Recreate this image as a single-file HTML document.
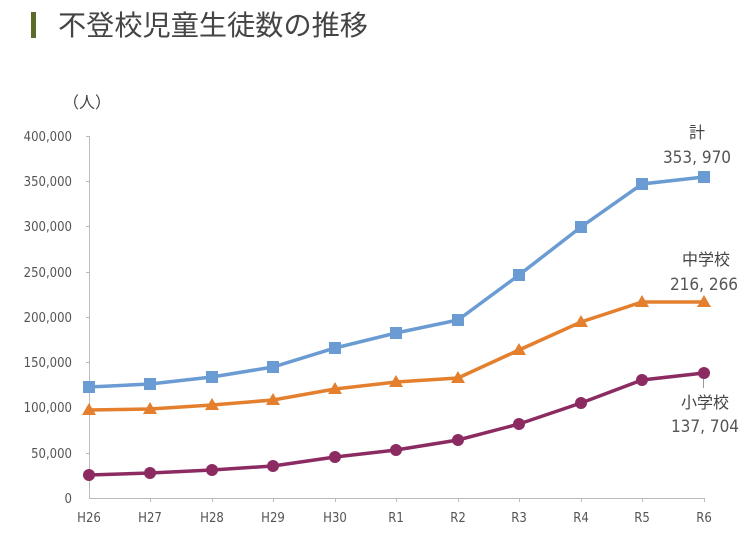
<!DOCTYPE html>
<html><head><meta charset="utf-8"><style>
body{margin:0;background:#fff;}
svg{display:block;}
.t{font-family:"Liberation Sans Narrow","DejaVu Sans Condensed","Liberation Sans",sans-serif;fill:#555;font-size:13px;}
.j{font-family:"Liberation Sans","Noto Sans CJK JP",sans-serif;fill:#444;}
</style></head><body>
<svg width="750" height="538" viewBox="0 0 750 538">
<rect x="31" y="12" width="5" height="26" fill="#5b6b2a"/>
<text x="58" y="35" class="j" font-size="28" fill="#333" textLength="310" lengthAdjust="spacingAndGlyphs">不登校児童生徒数の推移</text>
<text x="63" y="108" class="j" font-size="16">（人）</text>
<g stroke="#bbb" stroke-width="1">
<line x1="89.5" y1="136" x2="89.5" y2="498"/>
<line x1="89" y1="498.5" x2="705" y2="498.5"/>
<line x1="86" y1="136.5" x2="89" y2="136.5"/>
<line x1="86" y1="181.5" x2="89" y2="181.5"/>
<line x1="86" y1="226.5" x2="89" y2="226.5"/>
<line x1="86" y1="272.5" x2="89" y2="272.5"/>
<line x1="86" y1="317.5" x2="89" y2="317.5"/>
<line x1="86" y1="362.5" x2="89" y2="362.5"/>
<line x1="86" y1="407.5" x2="89" y2="407.5"/>
<line x1="86" y1="453.5" x2="89" y2="453.5"/>
<line x1="150.5" y1="498" x2="150.5" y2="502"/><line x1="212.5" y1="498" x2="212.5" y2="502"/><line x1="273.5" y1="498" x2="273.5" y2="502"/><line x1="335.5" y1="498" x2="335.5" y2="502"/><line x1="396.5" y1="498" x2="396.5" y2="502"/><line x1="458.5" y1="498" x2="458.5" y2="502"/><line x1="519.5" y1="498" x2="519.5" y2="502"/><line x1="581.5" y1="498" x2="581.5" y2="502"/><line x1="642.5" y1="498" x2="642.5" y2="502"/><line x1="704.5" y1="498" x2="704.5" y2="502"/>
</g>
<g class="t" text-anchor="end">
<text x="72" y="141">400,000</text><text x="72" y="186">350,000</text><text x="72" y="231">300,000</text><text x="72" y="277">250,000</text><text x="72" y="322">200,000</text><text x="72" y="367">150,000</text><text x="72" y="412">100,000</text><text x="72" y="458">50,000</text><text x="72" y="503">0</text>
</g>
<g class="t" text-anchor="middle">
<text x="89" y="522">H26</text><text x="150" y="522">H27</text><text x="212" y="522">H28</text><text x="273" y="522">H29</text><text x="335" y="522">H30</text><text x="396" y="522">R1</text><text x="458" y="522">R2</text><text x="519" y="522">R3</text><text x="581" y="522">R4</text><text x="642" y="522">R5</text><text x="704" y="522">R6</text>
</g>
<polyline fill="none" stroke="#6a9bd3" stroke-width="3.5" points="89,387 150,384 212,377 273,367 335,348 396,333 458,320 519,275 581,227 642,184 704,177"/>
<g fill="#6a9bd3">
<rect x="83" y="381" width="12" height="12"/><rect x="144" y="378" width="12" height="12"/><rect x="206" y="371" width="12" height="12"/><rect x="267" y="361" width="12" height="12"/><rect x="329" y="342" width="12" height="12"/><rect x="390" y="327" width="12" height="12"/><rect x="452" y="314" width="12" height="12"/><rect x="513" y="269" width="12" height="12"/><rect x="575" y="221" width="12" height="12"/><rect x="636" y="178" width="12" height="12"/><rect x="698" y="171" width="12" height="12"/>
</g>
<polyline fill="none" stroke="#e37f2d" stroke-width="3.5" points="89,410 150,409 212,405 273,400 335,389 396,382 458,378 519,350 581,322 642,302 704,302"/>
<g fill="#e37f2d">
<path d="M89,403l7,12h-14z"/><path d="M150,402l7,12h-14z"/><path d="M212,398l7,12h-14z"/><path d="M273,393l7,12h-14z"/><path d="M335,382l7,12h-14z"/><path d="M396,375l7,12h-14z"/><path d="M458,371l7,12h-14z"/><path d="M519,343l7,12h-14z"/><path d="M581,315l7,12h-14z"/><path d="M642,295l7,12h-14z"/><path d="M704,295l7,12h-14z"/>
</g>
<polyline fill="none" stroke="#8b2b62" stroke-width="3.5" points="89,475 150,473 212,470 273,466 335,457 396,450 458,440 519,424 581,403 642,380 704,373"/>
<g fill="#8b2b62">
<circle cx="89" cy="475" r="6"/><circle cx="150" cy="473" r="6"/><circle cx="212" cy="470" r="6"/><circle cx="273" cy="466" r="6"/><circle cx="335" cy="457" r="6"/><circle cx="396" cy="450" r="6"/><circle cx="458" cy="440" r="6"/><circle cx="519" cy="424" r="6"/><circle cx="581" cy="403" r="6"/><circle cx="642" cy="380" r="6"/><circle cx="704" cy="373" r="6"/>
</g>
<line x1="703.5" y1="379" x2="703.5" y2="388" stroke="#999"/>
<g class="j" font-size="16" text-anchor="middle">
<text x="697" y="138">計</text><text x="697" y="163" class="t" style="font-size:17px">353, 970</text>
<text x="706" y="265">中学校</text><text x="704" y="290" class="t" style="font-size:17px">216, 266</text>
<text x="705" y="408">小学校</text><text x="705" y="432" class="t" style="font-size:17px">137, 704</text>
</g>
</svg>
</body></html>
